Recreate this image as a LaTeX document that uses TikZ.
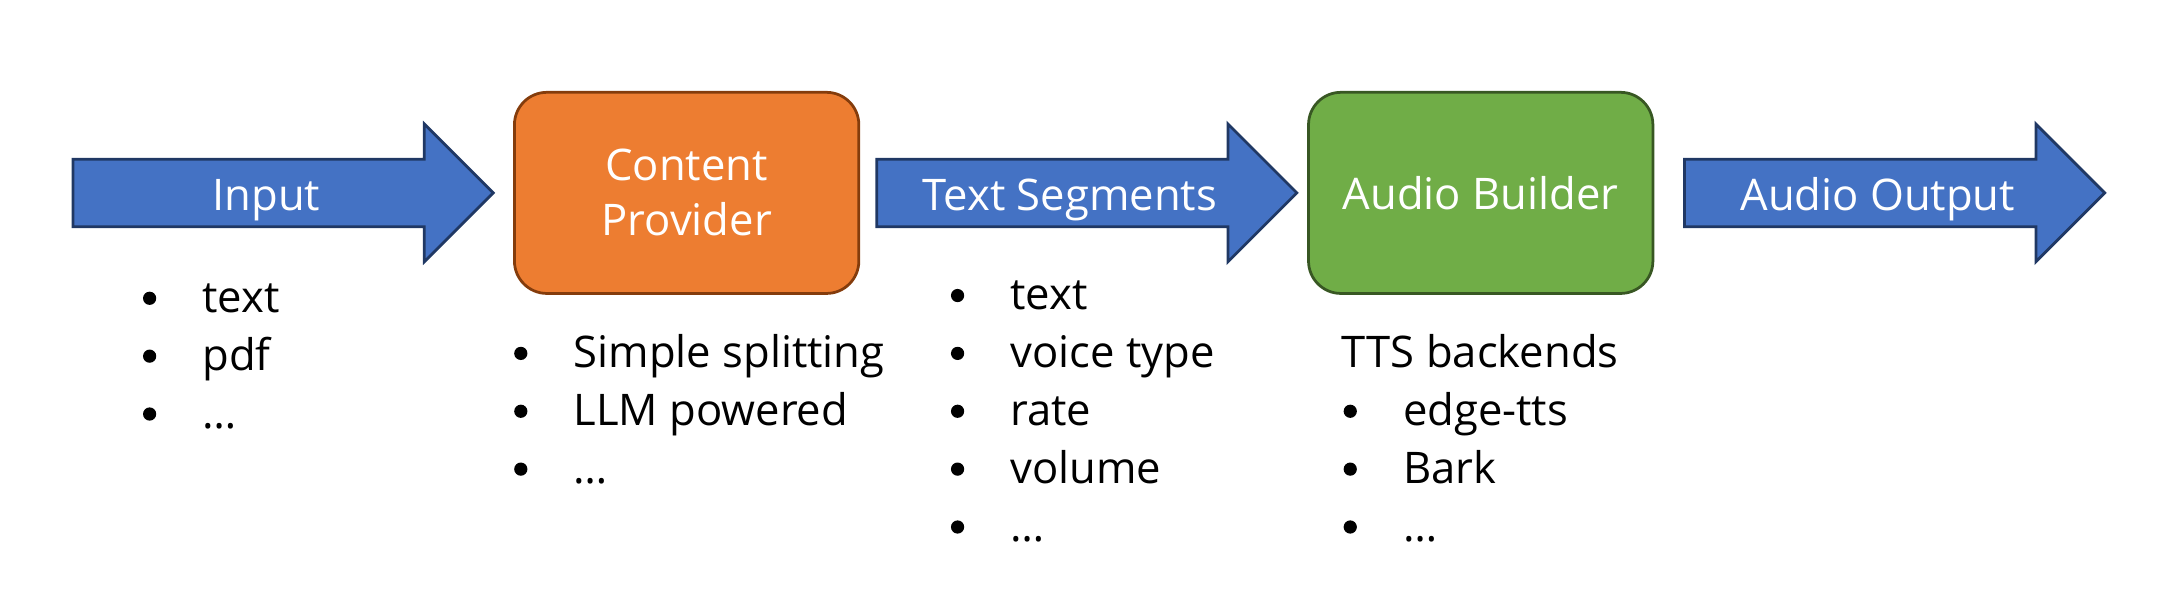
\documentclass[tikz,border=0pt]{standalone}
\usepackage{fontspec}
\setmainfont{Open Sans}
\usetikzlibrary{positioning,shapes.arrows}

\definecolor{flowblue}{HTML}{4472C4}
\definecolor{flowline}{HTML}{203864}
\definecolor{provorange}{HTML}{ED7D31}
\definecolor{provline}{HTML}{843C0C}
\definecolor{buildgreen}{HTML}{70AD47}
\definecolor{buildline}{HTML}{385723}

\begin{document}
\begin{tikzpicture}
    [x=0.02cm,y=-0.02cm,font=\fontsize{18}{22.7}\selectfont,
    flow/.style={single arrow,draw=flowline,fill=flowblue,line width=0.04cm,
        minimum height=6.1cm,single arrow head extend=0.51cm,single arrow tip angle=90,
        text=white,text height=0.5cm,text depth=0cm,inner ysep=0.22cm,inner xsep=0pt},
    stage/.style={rectangle,rounded corners=0.47cm,line width=0.04cm,
        minimum width=5cm,minimum height=2.92cm,inner sep=0pt,text=white,align=center},
    item/.style={anchor=base west,inner sep=0pt},
    dot/.style={shift={(-38,-10.5)}}]

    \useasboundingbox (0,0) rectangle (1567,427.4);

    \node[flow,anchor=west] (input) at (52,140) {Input};
    \node[stage,draw=provline,fill=provorange] (provider) [right=0.26cm of input] {Content\\Provider};
    \node[flow] (segments) [right=0.22cm of provider] {Text Segments};
    \node[stage,draw=buildline,fill=buildgreen] (builder) [right=0.12cm of segments] {Audio Builder};
    \node[flow] (output) [right=0.42cm of builder] {Audio Output};

    \foreach \txt [count=\i] in {text,pdf,…} {
        \node[item] (inlist-\i) at (146.6,{227+42*(\i-1)}) {\txt};
        \fill ([dot]inlist-\i.base west) circle (4.8);
    }

    \foreach \txt [count=\i] in {Simple splitting,LLM powered,…} {
        \node[item] (provlist-\i) at (416,{267+42*(\i-1)}) {\txt};
        \fill ([dot]provlist-\i.base west) circle (4.8);
    }

    \foreach \txt [count=\i] in {text,voice type,rate,volume,…} {
        \node[item] (seglist-\i) at (733,{225+42*(\i-1)}) {\txt};
        \fill ([dot]seglist-\i.base west) circle (4.8);
    }

    \node[item] (backends) at (973.6,267) {TTS backends};
    \foreach \txt [count=\i] in {edge-tts,Bark,…} {
        \node[item] (buildlist-\i) at (1018,{309+42*(\i-1)}) {\txt};
        \fill ([dot]buildlist-\i.base west) circle (4.8);
    }

\end{tikzpicture}
\end{document}
